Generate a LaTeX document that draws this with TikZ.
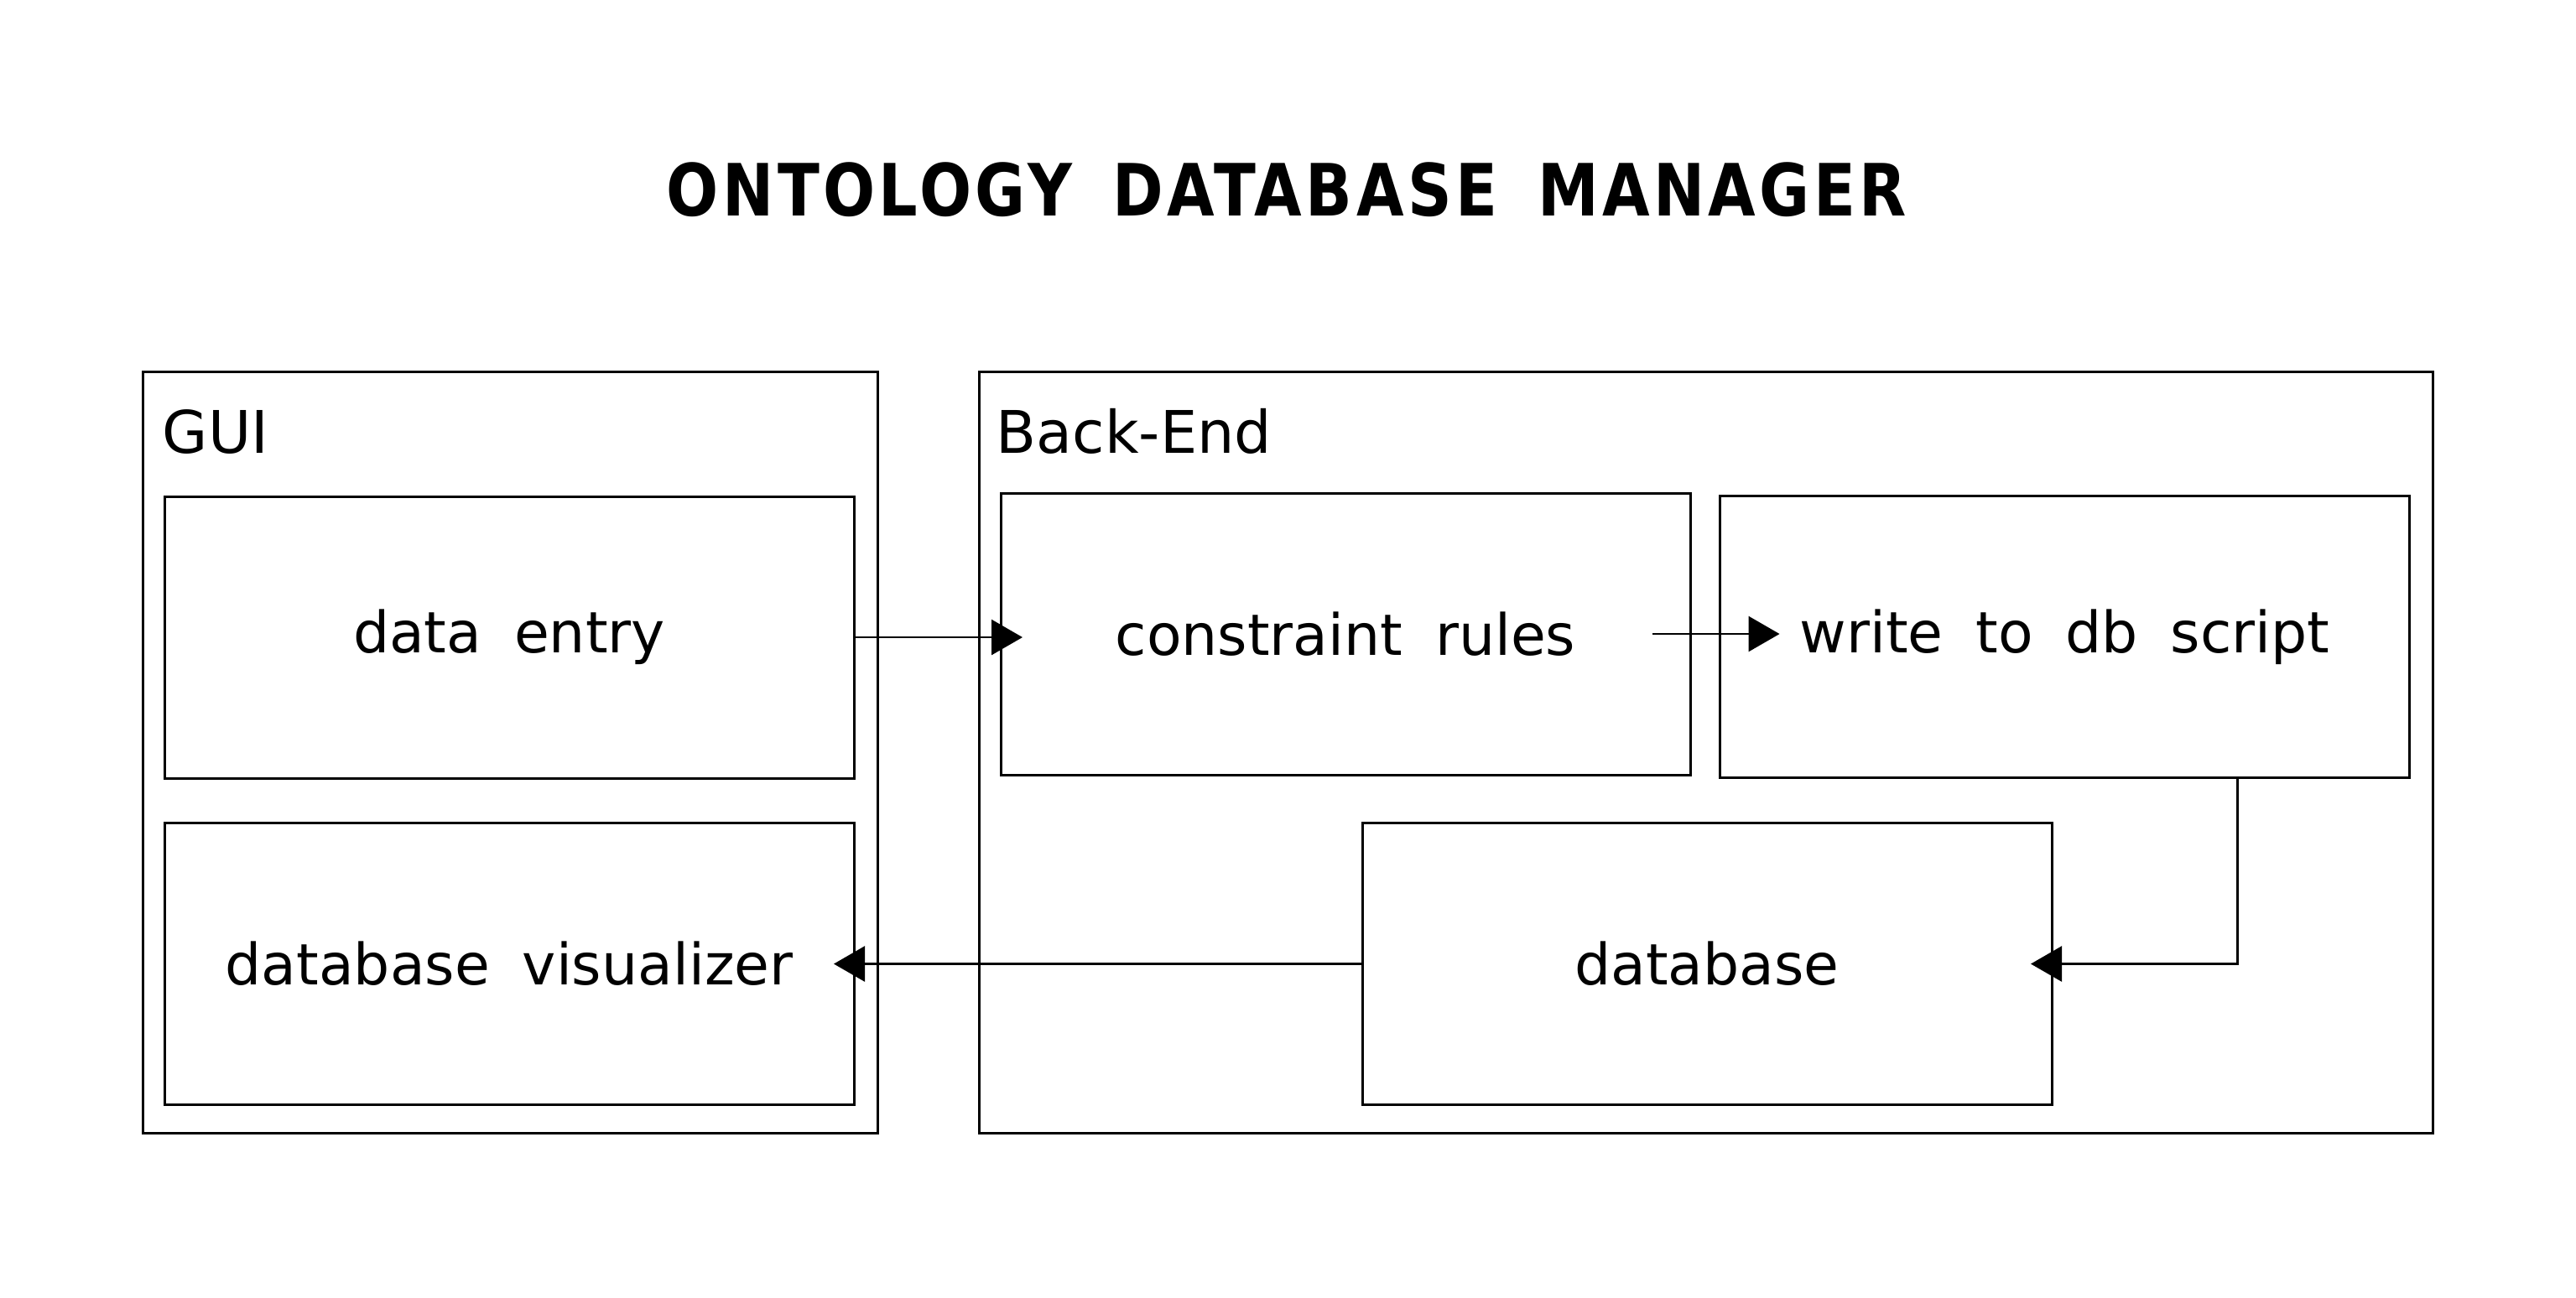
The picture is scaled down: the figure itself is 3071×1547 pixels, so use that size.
\documentclass[tikz,border=0pt]{standalone}
\usepackage{fontspec}
\setmainfont[WordSpace=1.8]{DejaVu Sans}
\newfontfamily\titlefont[FakeStretch=0.85,LetterSpace=5.2,WordSpace=1.6]{DejaVu Sans}
\usetikzlibrary{arrows.meta}
\tikzset{
  part/.style={draw,line width=0.75pt,inner sep=0pt,outer sep=0pt,
    minimum width=205.5pt,minimum height=84pt,font=\fontsize{17}{20}\selectfont},
  cluster/.style={draw,line width=0.75pt,inner sep=0pt,outer sep=0pt,minimum height=227pt},
  clusterlbl/.style={anchor=base west,inner sep=0pt,font=\fontsize{17.5}{20}\selectfont},
  flow/.style={draw,line width=0.7pt,-{Triangle[length=9.25pt,width=10.5pt]}}
}
\begin{document}
\begin{tikzpicture}[x=0.25pt,y=-0.25pt]
\useasboundingbox (0,0) rectangle (3071,1547);
\node[anchor=base,inner sep=0pt,font=\titlefont\bfseries\fontsize{21.5}{24}\selectfont] (title) at (1534,257) {ONTOLOGY DATABASE MANAGER};
% clusters
\node[cluster,minimum width=219pt] (gui) at (608,897) {};
\node[cluster,minimum width=433.25pt] (backend) at (2033.5,897) {};
\node[clusterlbl] (guilbl) at (193,540) {GUI};
\node[clusterlbl] (backendlbl) at (1187,540) {Back-End};
% parts
\node[part] (entry) at (607,760) {data entry};
\node[part] (vis) at (607,1149.5) {database visualizer};
\node[part] (rules) at (1604,756) {constraint rules};
\node[part] (write) at (2461.5,759.5) {write to db script};
\node[part] (db) at (2035,1149.5) {database};
% flows
\draw[flow,shorten >=-6.5pt] (entry.east) -- (entry.east -| rules.west);
\draw[flow,shorten <=-11.25pt,shorten >=-17.75pt] (rules.east) -- (rules.east -| write.west);
\draw[flow,shorten >=-6.25pt] ([xshift=51.5pt]write.south) |- (db.east);
\draw[flow,shorten >=-6pt] (db.west) -- (vis.east);
\end{tikzpicture}
\end{document}
